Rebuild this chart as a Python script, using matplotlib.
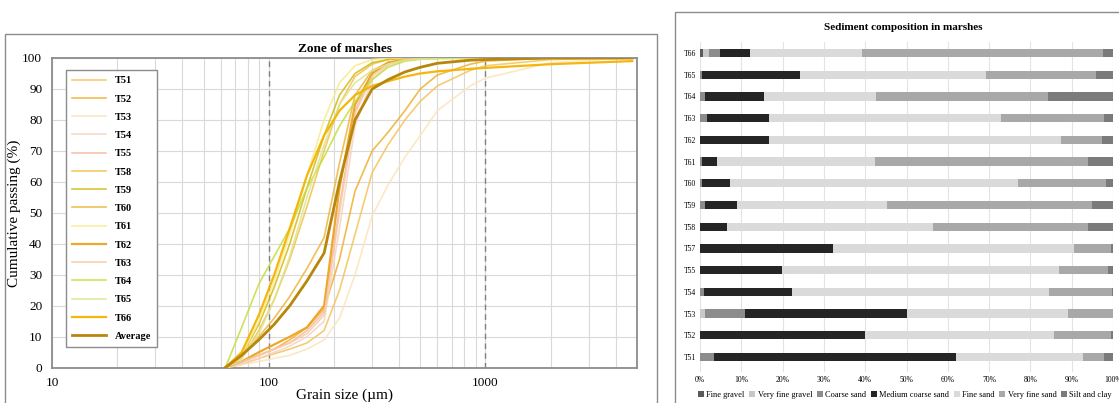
import matplotlib
matplotlib.use("Agg")
import matplotlib.pyplot as plt
from matplotlib.patches import Rectangle
import numpy as np

plt.rcParams['font.family'] = ['Liberation Serif', 'DejaVu Serif']

# ---- grain size curves (cumulative passing, %) ----
sizes = [63, 75, 90, 106, 125, 150, 180, 212, 250, 300, 355, 425, 500, 600, 850, 1000, 2000, 4750]

T51 = [0, 1, 3, 4.5, 6, 8, 12, 25, 43, 63, 72, 80, 86, 91, 96, 97.5, 99.5, 100]
T52 = [0, 2, 4, 6, 9, 13, 19, 35, 57, 70, 76, 83, 90, 94.5, 98, 99, 100, 100]
T53 = [0, 1, 2, 3, 4, 6, 9, 16, 30, 49, 59, 68, 75, 83, 91, 93.5, 98.5, 100]
T54 = [0, 1.5, 3, 5, 7, 10, 15, 45, 78, 93, 97.5, 99.3, 99.8, 100, 100, 100, 100, 100]
T55 = [0, 2, 4, 6, 8, 12, 18, 52, 83, 95, 98.5, 99.6, 100, 100, 100, 100, 100, 100]
T58 = [0, 3, 12, 22, 35, 52, 70, 85, 94, 98, 99.5, 100, 100, 100, 100, 100, 100, 100]
T59 = [0, 4, 14, 26, 40, 58, 75, 88, 95, 98.5, 99.5, 100, 100, 100, 100, 100, 100, 100]
T60 = [0, 4, 10, 16, 23, 32, 42, 66, 88, 96, 98.5, 99.5, 100, 100, 100, 100, 100, 100]
T61 = [0, 4, 15, 28, 43, 62, 80, 92, 97.5, 99.5, 100, 100, 100, 100, 100, 100, 100, 100]
T62 = [0, 2, 5, 7.5, 10, 13, 20, 58, 85, 95, 98.5, 99.5, 100, 100, 100, 100, 100, 100]
T63 = [0, 2, 4, 6, 8, 11, 17, 50, 82, 94, 98, 99.5, 100, 100, 100, 100, 100, 100]
T64 = [0, 13, 27, 36, 45, 58, 68, 78, 86, 93, 97, 99, 99.6, 99.8, 100, 100, 100, 100]
T65 = [0, 3, 11, 22, 36, 55, 72, 85, 92, 96, 98, 99.3, 99.7, 100, 100, 100, 100, 100]
T66 = [0, 5, 17, 30, 45, 62, 75, 83, 88, 91, 92.5, 94, 95, 95.7, 96.5, 96.8, 98, 99]
Average = [0, 4, 9, 14, 20, 28, 37, 60, 80, 90, 93, 95.5, 97, 98.3, 99.3, 99.5, 100, 100]

curve_names = ['T51', 'T52', 'T53', 'T54', 'T55', 'T58', 'T59', 'T60', 'T61',
               'T62', 'T63', 'T64', 'T65', 'T66', 'Average']
curves = [T51, T52, T53, T54, T55, T58, T59, T60, T61, T62, T63, T64, T65, T66, Average]
curve_colors = ['#f5c45a', '#efb02e', '#fbe4bb', '#f5d3c3', '#f4b99e', '#f2c24a',
                '#d2bb14', '#ecb63a', '#f8ea8e', '#eea320', '#f6caa6', '#c4de3e',
                '#dde58e', '#f4b300', '#b8860b']

# ---- sediment composition (%) ----
samples = ['T51', 'T52', 'T53', 'T54', 'T55', 'T57', 'T58', 'T59', 'T60', 'T61',
           'T62', 'T63', 'T64', 'T65', 'T66']
fine_gravel = [0, 0, 0, 0, 0, 0, 0, 0, 0, 0, 0, 0, 0, 0, 0.7]
very_fine_gravel = [0, 0, 1.2, 0, 0, 0, 0, 0, 0, 0, 0, 0, 0, 0, 1.5]
coarse_sand = [3.4, 0, 9.7, 1.0, 0, 0, 0, 1.2, 0.4, 0.4, 0, 1.8, 1.3, 0.4, 2.7]
medium_coarse_sand = [58.5, 40.0, 39.1, 21.3, 19.8, 32.3, 6.5, 7.7, 6.9, 3.6, 16.7, 14.8, 14.3, 23.9, 7.3]
fine_sand = [30.8, 45.8, 39.1, 62.1, 67.1, 58.3, 50.0, 36.4, 69.6, 38.3, 70.6, 56.4, 27.1, 45.0, 27.0]
very_fine_sand = [5.1, 13.8, 10.8, 15.3, 11.9, 8.8, 37.4, 49.7, 21.4, 51.7, 10.0, 24.8, 41.6, 26.6, 58.4]
silt_clay = [2.2, 0.3, 0.1, 0.3, 1.3, 0.6, 6.1, 5.0, 1.8, 5.9, 2.7, 2.3, 15.7, 4.0, 2.4]

fractions = ['Fine gravel', 'Very fine gravel', 'Coarse sand', 'Medium coarse sand',
             'Fine sand', 'Very fine sand', 'Silt and clay']
fraction_values = [fine_gravel, very_fine_gravel, coarse_sand, medium_coarse_sand,
                   fine_sand, very_fine_sand, silt_clay]
fraction_colors = ['#5a5a5a', '#c8c8c8', '#8c8c8c', '#252525', '#dadada', '#a8a8a8', '#7b7b7b']

W, H = 1119, 403
fig = plt.figure(figsize=(W / 100, H / 100), dpi=100)

# panel frames
fig.patches.append(Rectangle((5 / W, -0.01), 652 / W, 1 - 34 / H + 0.01, transform=fig.transFigure,
                             fill=False, edgecolor='#8c8c8c', lw=1.0))
fig.patches.append(Rectangle((675 / W, -0.01), 450 / W, 1 - 12 / H + 0.01, transform=fig.transFigure,
                             fill=False, edgecolor='#8c8c8c', lw=1.0))

# ---------- left: grain size distribution ----------
ax = fig.add_axes([52 / W, 1 - 367.7 / H, 585 / W, 309.7 / H])
for name, vals, c in zip(curve_names, curves, curve_colors):
    lw, a = 1.2, 0.85
    if name in ('T62', 'T66'):
        lw, a = 1.6, 0.95
    if name == 'Average':
        lw, a = 2.0, 1.0
    ax.plot(sizes, vals, color=c, lw=lw, alpha=a, label=name, zorder=3)

ax.set_xscale('log')
ax.set_xlim(10, 5000)
ax.set_ylim(0, 100)
ax.set_yticks(range(0, 101, 10))
ax.set_xticks([10, 100, 1000])
ax.set_xticklabels(['10', '100', '1000'])
ax.grid(True, which='major', color='#d9d9d9', lw=0.8)
ax.grid(True, which='minor', axis='x', color='#d9d9d9', lw=0.8)
ax.set_axisbelow(True)
ax.tick_params(which='both', length=0, labelsize=9.5, pad=7)
for s in ax.spines.values():
    s.set_color('#8c8c8c')
    s.set_linewidth(1.3)
for v in (100, 1000):
    ax.axvline(v, color='#808080', lw=1.0, ls=(0, (4, 3)), zorder=2)

ax.set_title('Zone of marshes', fontsize=9.5, fontweight='bold', pad=4)
ax.set_ylabel('Cumulative passing (%)', fontsize=11, labelpad=1)
ax.set_xlabel('Grain size (\u00b5m)', fontsize=11, labelpad=-1)

leg = ax.legend(loc='upper left', bbox_to_anchor=(0.015, 0.977),
                prop={'weight': 'bold', 'size': 7.5}, handlelength=3.3, labelspacing=0.86,
                borderpad=0.55, fancybox=False, framealpha=1, edgecolor='#8c8c8c')
leg.get_frame().set_linewidth(1.0)

# ---------- right: sediment composition ----------
bx = fig.add_axes([700 / W, 1 - 371.7 / H, 413 / W, 329.7 / H])
y = np.arange(len(samples))
left = np.zeros(len(samples))
for name, vals, c in zip(fractions, fraction_values, fraction_colors):
    vals = np.array(vals)
    bx.barh(y, vals, left=left, height=0.38, color=c, label=name, zorder=3)
    left += vals

bx.set_xlim(0, 100)
bx.set_ylim(-0.68, 14.51)
bx.set_xticks(range(0, 101, 10))
bx.set_xticklabels([f'{v}%' for v in range(0, 101, 10)])
bx.set_yticks(y)
bx.set_yticklabels(samples)
bx.tick_params(length=0, labelsize=5.5, pad=3)
bx.grid(True, axis='x', color='#e3e3e3', lw=0.8)
bx.set_axisbelow(True)
for s in bx.spines.values():
    s.set_visible(False)

fig.text(903 / W, 1 - 27 / H, 'Sediment composition in marshes', ha='center', va='center',
         fontsize=8, fontweight='bold')
fig.legend(*bx.get_legend_handles_labels(), loc='center', bbox_to_anchor=(905 / W, 1 - 395 / H),
           ncol=7, fontsize=6, frameon=False, handlelength=0.7, handleheight=0.7,
           handletextpad=0.3, columnspacing=0.55)

fig.savefig('out.png', dpi=100)
